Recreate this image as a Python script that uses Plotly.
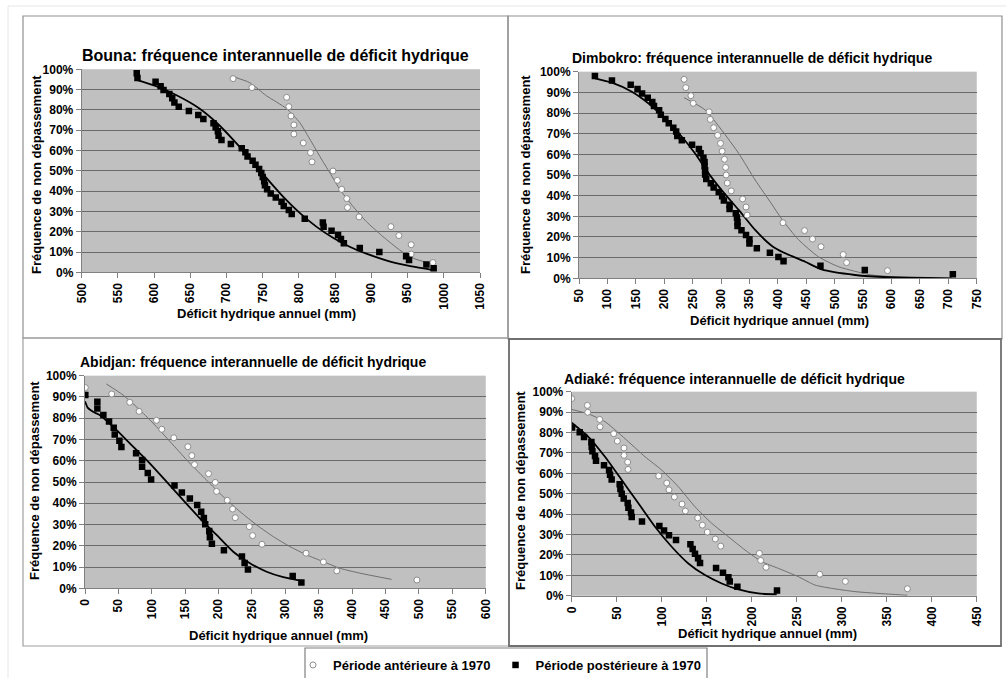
import plotly.graph_objects as go

W, H = 1006, 678

# ---------------- DATA ----------------
# Bouna
bouna_post_x = [576, 577, 602, 609, 613, 621, 625, 628, 634, 648, 661, 668, 682, 685, 688, 689, 693, 706, 721, 726, 729, 736, 740, 745, 748, 750, 752, 753, 756, 761, 768, 776, 779, 786, 790, 808, 833, 834, 845, 854, 858, 862, 884, 911, 948, 952, 976, 986]
bouna_post_y = [98.0, 95.7, 93.9, 91.6, 89.8, 87.8, 85.7, 83.7, 81.6, 79.5, 77.5, 75.5, 73.4, 71.4, 69.5, 67.3, 65.2, 63.2, 61.1, 59.1, 57.1, 55.0, 53.0, 50.9, 48.9, 47.0, 44.8, 42.9, 40.9, 38.8, 36.8, 34.8, 32.7, 30.7, 28.7, 26.4, 24.5, 22.5, 20.5, 18.4, 16.4, 14.3, 12.0, 10.0, 7.9, 6.1, 3.9, 2.0]
bouna_ante_x = [709, 735, 783, 786, 789, 793, 793, 806, 816, 818, 847, 853, 859, 866, 867, 883, 927, 938, 955, 955, 985]
bouna_ante_y = [95.4, 91.0, 86.2, 81.6, 77.0, 72.6, 68.1, 63.7, 58.9, 54.4, 49.9, 45.3, 40.9, 36.3, 31.9, 27.3, 22.5, 18.1, 13.6, 9.0, 4.8]
bouna_fit_post_x = [577, 602, 631, 663, 686, 709, 732, 755, 778, 801, 824, 847, 870, 893, 916, 939, 962, 985]
bouna_fit_post_y = [94.7, 91.8, 87.2, 80.6, 73.8, 65.4, 56.2, 46.5, 37.3, 29.3, 22.5, 17.0, 12.6, 9.2, 6.4, 4.1, 2.5, 1.1]
bouna_fit_ante_x = [709, 732, 755, 783, 801, 815, 829, 843, 857, 875, 893, 916, 939, 958, 981]
bouna_fit_ante_y = [96.4, 93.4, 87.0, 80.6, 73.8, 65.6, 57.0, 48.8, 40.6, 32.3, 25.0, 17.6, 11.0, 6.9, 4.4]
bouna_xticks = [500, 550, 600, 650, 700, 750, 800, 850, 900, 950, 1000, 1050]

# Dimbokro
dimb_post_x = [78, 108, 141, 153, 161, 171, 179, 182, 191, 194, 202, 208, 216, 221, 223, 231, 249, 261, 264, 269, 271, 271, 272, 272, 274, 282, 287, 296, 302, 305, 315, 315, 326, 328, 329, 329, 336, 344, 350, 350, 363, 386, 401, 410, 475, 553, 708]
dimb_post_y = [97.9, 95.8, 93.7, 91.6, 89.5, 87.4, 85.3, 83.4, 81.3, 79.2, 77.1, 75.0, 72.9, 71.0, 68.9, 66.8, 64.7, 62.6, 60.5, 58.4, 56.3, 54.2, 52.3, 50.2, 48.1, 46.0, 43.9, 41.8, 39.7, 37.7, 35.6, 33.5, 31.5, 29.4, 27.3, 25.3, 23.2, 21.0, 18.9, 16.8, 14.5, 12.4, 10.3, 8.2, 6.1, 4.0, 1.9]
dimb_ante_x = [235, 238, 247, 251, 279, 281, 287, 294, 299, 302, 306, 308, 309, 311, 318, 338, 344, 346, 409, 447, 461, 476, 515, 521, 593]
dimb_ante_y = [96.3, 92.3, 88.4, 84.7, 80.6, 76.9, 72.9, 69.2, 65.3, 61.5, 57.6, 53.7, 50.0, 46.1, 42.3, 38.4, 34.5, 30.6, 26.9, 23.1, 19.0, 15.3, 11.5, 7.6, 3.7]
dimb_fit_post_x = [78, 108, 143, 172, 201, 231, 254, 278, 301, 331, 360, 389, 410, 448, 477, 536, 595, 706]
dimb_fit_post_y = [96.8, 94.7, 90.3, 84.7, 77.4, 68.5, 60.5, 50.8, 42.7, 33.1, 23.4, 15.8, 12.5, 8.0, 4.3, 1.6, 0.5, 0.0]
dimb_fit_ante_x = [235, 272, 301, 331, 360, 389, 407, 436, 471, 507, 565, 624, 706]
dimb_fit_ante_y = [87.4, 81.5, 71.8, 60.5, 47.6, 36.0, 28.6, 18.8, 10.5, 5.6, 1.6, 0.5, 0.0]
dimb_xticks = [50, 100, 150, 200, 250, 300, 350, 400, 450, 500, 550, 600, 650, 700, 750]

# Abidjan
abid_post_x = [0.5, 18.5, 18.5, 27.5, 36, 43, 44.5, 51.5, 54.5, 76.5, 85.5, 85.5, 94, 99, 134, 145, 157, 168, 174, 178, 180, 186, 187, 190, 208, 235, 239, 244, 311, 324]
abid_post_y = [90.9, 87.8, 84.6, 81.5, 78.5, 75.5, 72.4, 69.4, 66.5, 63.5, 60.3, 57.2, 54.2, 51.2, 48.3, 45.1, 42.2, 39.2, 36.0, 33.1, 30.1, 27.0, 24.0, 21.0, 17.9, 14.9, 11.9, 8.8, 5.8, 2.7]
abid_ante_x = [0.5, 40, 67, 81, 107, 115, 133, 154, 160, 164, 185, 195, 197, 213, 221, 225, 246, 251, 265, 331, 357, 377, 497]
abid_ante_y = [94.4, 91.4, 87.5, 83.2, 79.0, 74.8, 70.8, 66.6, 62.4, 58.2, 53.9, 49.8, 45.6, 41.4, 37.3, 33.2, 29.0, 24.8, 20.7, 16.5, 12.4, 8.2, 3.9]
abid_fit_post_x = [0, 4, 12, 22, 47, 72, 97, 122, 147, 172, 197, 222, 247, 272, 297, 322]
abid_fit_post_y = [88.0, 85.0, 83.0, 81.5, 74.5, 66.6, 58.8, 50.2, 41.5, 32.9, 25.1, 17.2, 11.8, 7.8, 5.2, 3.6]
abid_fit_ante_x = [32, 57, 82, 107, 132, 157, 182, 207, 232, 257, 282, 307, 332, 357, 382, 412, 459]
abid_fit_ante_y = [96.1, 90.9, 83.9, 76.0, 67.4, 58.8, 50.9, 43.1, 36.1, 29.8, 24.3, 19.6, 15.7, 12.5, 9.4, 7.1, 4.2]
abid_xticks = [0, 50, 100, 150, 200, 250, 300, 350, 400, 450, 500, 550, 600]

# Adiaké
adia_post_x = [0.4, 8.9, 13.7, 21.9, 22.2, 23.0, 25.9, 27.0, 35.9, 41.5, 42.6, 44.4, 53.3, 54.1, 55.6, 57.8, 62.2, 63.0, 65.9, 66.7, 78.1, 97.4, 102.6, 108.1, 115.9, 131.9, 134.4, 137.0, 140.4, 142.6, 160.4, 168.1, 174.1, 175.6, 184.1, 228.1]
adia_post_y = [82.4, 80.1, 77.8, 75.3, 73.0, 70.8, 68.5, 66.2, 63.9, 61.6, 59.3, 57.0, 54.6, 52.3, 50.0, 47.7, 45.4, 43.1, 40.8, 38.6, 36.4, 34.2, 31.9, 29.6, 27.3, 25.2, 22.9, 20.6, 18.3, 16.0, 13.6, 11.3, 9.0, 6.9, 4.4, 2.5]
adia_ante_x = [0, 17.4, 17.8, 31.1, 31.5, 46.7, 50.7, 58.1, 58.1, 62.2, 62.6, 96.7, 105.6, 108.1, 114.1, 122.6, 126.3, 140.0, 145.2, 150.7, 159.6, 165.6, 208.5, 210.0, 215.9, 275.6, 304.1, 373.0]
adia_ante_y = [96.6, 93.3, 89.9, 86.4, 82.8, 79.4, 75.8, 72.4, 68.8, 65.5, 61.9, 58.7, 55.2, 51.9, 48.4, 44.9, 41.5, 38.1, 34.6, 31.2, 27.8, 24.3, 20.8, 17.3, 13.9, 10.5, 7.0, 3.4]
adia_fit_post_x = [0, 18.5, 37, 55.6, 74.1, 92.6, 111.1, 129.6, 148.1, 166.7, 185.2, 207.4, 227.8]
adia_fit_post_y = [84.8, 77.9, 68.1, 56.7, 45.3, 33.8, 24.0, 15.8, 10.1, 6.0, 3.1, 1.1, 0.7]
adia_fit_ante_x = [0, 18.5, 37, 63, 81.5, 100, 118.5, 137, 155.6, 174.1, 192.6, 211.1, 229.6, 251.9, 270.4, 288.9, 314.8, 351.9, 373]
adia_fit_ante_y = [91.3, 89.1, 85.3, 75.5, 68.1, 61.6, 53.4, 43.6, 35.5, 28.9, 22.4, 16.7, 13.4, 9.3, 5.2, 3.6, 2.0, 0.8, 0.2]
adia_xticks = [0, 50, 100, 150, 200, 250, 300, 350, 400, 450]

y_ticks = [0, 10, 20, 30, 40, 50, 60, 70, 80, 90, 100]
y_ticklabels = ["0%", "10%", "20%", "30%", "40%", "50%", "60%", "70%", "80%", "90%", "100%"]

titles = ["Bouna: fréquence interannuelle de déficit hydrique",
          "Dimbokro: fréquence interannuelle de déficit hydrique",
          "Abidjan: fréquence interannuelle de déficit hydrique",
          "Adiaké: fréquence interannuelle de déficit hydrique"]
x_title = "Déficit hydrique annuel (mm)"
y_title = "Fréquence de non dépassement"
legend_ante = "Période antérieure à 1970"
legend_post = "Période postérieure à 1970"

# ---------------- LAYOUT HELPERS ----------------
ML, MR, MT, MB = 20, 20, 20, 20

def fx(px):
    return (px - ML) / (W - ML - MR)

def fy(py):
    return 1 - (py - MT) / (H - MT - MB)

FONT = "Liberation Sans"

areas = [(81.7, 480.0, 69.3, 272.3),
         (579.0, 976.7, 71.7, 278.3),
         (85.0, 485.7, 375.7, 588.3),
         (571.7, 976.7, 391.7, 595.7)]

panels = [
    (bouna_post_x, bouna_post_y, bouna_ante_x, bouna_ante_y, bouna_fit_post_x, bouna_fit_post_y, bouna_fit_ante_x, bouna_fit_ante_y, bouna_xticks),
    (dimb_post_x, dimb_post_y, dimb_ante_x, dimb_ante_y, dimb_fit_post_x, dimb_fit_post_y, dimb_fit_ante_x, dimb_fit_ante_y, dimb_xticks),
    (abid_post_x, abid_post_y, abid_ante_x, abid_ante_y, abid_fit_post_x, abid_fit_post_y, abid_fit_ante_x, abid_fit_ante_y, abid_xticks),
    (adia_post_x, adia_post_y, adia_ante_x, adia_ante_y, adia_fit_post_x, adia_fit_post_y, adia_fit_ante_x, adia_fit_ante_y, adia_xticks),
]

fig = go.Figure()

for i, (px_, py_, ax_, ay_, fpx, fpy, fax, fay, _t) in enumerate(panels):
    sfx = "" if i == 0 else str(i + 1)
    xa, ya = "x" + sfx, "y" + sfx
    fig.add_trace(go.Scatter(x=fax, y=fay, mode="lines", xaxis=xa, yaxis=ya,
                             line=dict(color="#6e6e6e", width=1, shape="spline", smoothing=0.6),
                             showlegend=False, hoverinfo="skip"))
    fig.add_trace(go.Scatter(x=fpx, y=fpy, mode="lines", xaxis=xa, yaxis=ya,
                             line=dict(color="#000000", width=1.8, shape="spline", smoothing=0.6),
                             showlegend=False, hoverinfo="skip"))
    fig.add_trace(go.Scatter(x=ax_, y=ay_, mode="markers", xaxis=xa, yaxis=ya,
                             name=legend_ante, legendgroup="ante", showlegend=(i == 0),
                             marker=dict(symbol="circle", size=6, color="#ffffff",
                                         line=dict(color="#8c8c8c", width=1))))
    fig.add_trace(go.Scatter(x=px_, y=py_, mode="markers", xaxis=xa, yaxis=ya,
                             name=legend_post, legendgroup="post", showlegend=(i == 0),
                             marker=dict(symbol="square", size=6.5, color="#000000",
                                         line=dict(color="#000000", width=0))))

layout = dict(
    width=W, height=H,
    margin=dict(l=ML, r=MR, t=MT, b=MB, autoexpand=False),
    paper_bgcolor="#ffffff",
    showlegend=True,
    legend=dict(orientation="h", x=fx(500), y=fy(665), xanchor="center", yanchor="middle",
                font=dict(family=FONT, size=13, color="#000000", weight="bold"),
                bgcolor="rgba(0,0,0,0)", borderwidth=0, itemwidth=30, tracegroupgap=0,
                traceorder="normal"),
)

for i, (l, r, t, b) in enumerate(areas):
    sfx = "" if i == 0 else str(i + 1)
    ticks_i = panels[i][8]
    layout["xaxis" + sfx] = dict(
        domain=[fx(l), fx(r)], anchor="y" + sfx, range=[ticks_i[0], ticks_i[-1]],
        tickmode="array", tickvals=ticks_i, tickangle=-90,
        tickfont=dict(size=12, family=FONT, weight="bold", color="#000000"),
        ticks="outside", ticklen=5, tickcolor="#808080",
        showline=True, linecolor="#808080", linewidth=1, showgrid=False, zeroline=False)
    layout["yaxis" + sfx] = dict(
        domain=[fy(b), fy(t)], anchor="x" + sfx, range=[0, 100],
        tickmode="array", tickvals=y_ticks, ticktext=y_ticklabels,
        ticks="outside", ticklen=5, tickcolor="#808080",
        showline=True, linecolor="#808080", linewidth=1, showgrid=True,
        gridcolor="#6a6a6a", gridwidth=1, zeroline=False,
        tickfont=dict(size=12, family=FONT, weight="bold", color="#000000"))

fig.update_layout(**layout)

shapes = []
for (l, r, t, b) in areas:
    shapes.append(dict(type="rect", xref="paper", yref="paper", x0=fx(l), x1=fx(r), y0=fy(b), y1=fy(t),
                       fillcolor="#c0c0c0", line=dict(width=0), layer="below"))

frames = [(23, 508, 16, 338, "#909090", 1.2),
          (508, 1002, 16, 339, "#909090", 1.2),
          (23, 509, 338, 646, "#a0a0a0", 1.2),
          (509, 1001, 339, 646, "#707070", 1.8),
          (305, 707, 648, 690, "#808080", 1.2)]
for (l, r, t, b, c, w) in frames:
    shapes.append(dict(type="rect", xref="paper", yref="paper", x0=fx(l), x1=fx(r), y0=fy(b), y1=fy(t),
                       line=dict(color=c, width=w), fillcolor="rgba(0,0,0,0)", layer="above"))
shapes.append(dict(type="line", xref="paper", yref="paper", x0=fx(8), x1=fx(8), y0=fy(H), y1=fy(6),
                   line=dict(color="#e6e6e6", width=1)))
shapes.append(dict(type="line", xref="paper", yref="paper", x0=fx(8), x1=fx(W), y0=fy(6), y1=fy(6),
                   line=dict(color="#e6e6e6", width=1)))
fig.update_layout(shapes=shapes)

ann = []
title_pos = [(275.5, 55, 16), (752, 58, 14), (253, 362, 14), (734.5, 379, 14)]
for txt, (x, y, s) in zip(titles, title_pos):
    ann.append(dict(text=txt, x=fx(x), y=fy(y), xref="paper", yref="paper", showarrow=False,
                    xanchor="center", yanchor="middle",
                    font=dict(family=FONT, size=s, color="#000000", weight="bold")))
xt_pos = [(266, 313), (779, 320), (278, 635), (767, 633)]
for (x, y) in xt_pos:
    ann.append(dict(text=x_title, x=fx(x), y=fy(y), xref="paper", yref="paper", showarrow=False,
                    xanchor="center", yanchor="middle",
                    font=dict(family=FONT, size=13, color="#000000", weight="bold")))
yt_pos = [(36, 175), (525, 175), (34, 481), (520, 491)]
for (x, y) in yt_pos:
    ann.append(dict(text=y_title, x=fx(x), y=fy(y), xref="paper", yref="paper", showarrow=False,
                    xanchor="center", yanchor="middle", textangle=-90,
                    font=dict(family=FONT, size=13, color="#000000", weight="bold")))
fig.update_layout(annotations=ann)

fig.write_html("out.html")
